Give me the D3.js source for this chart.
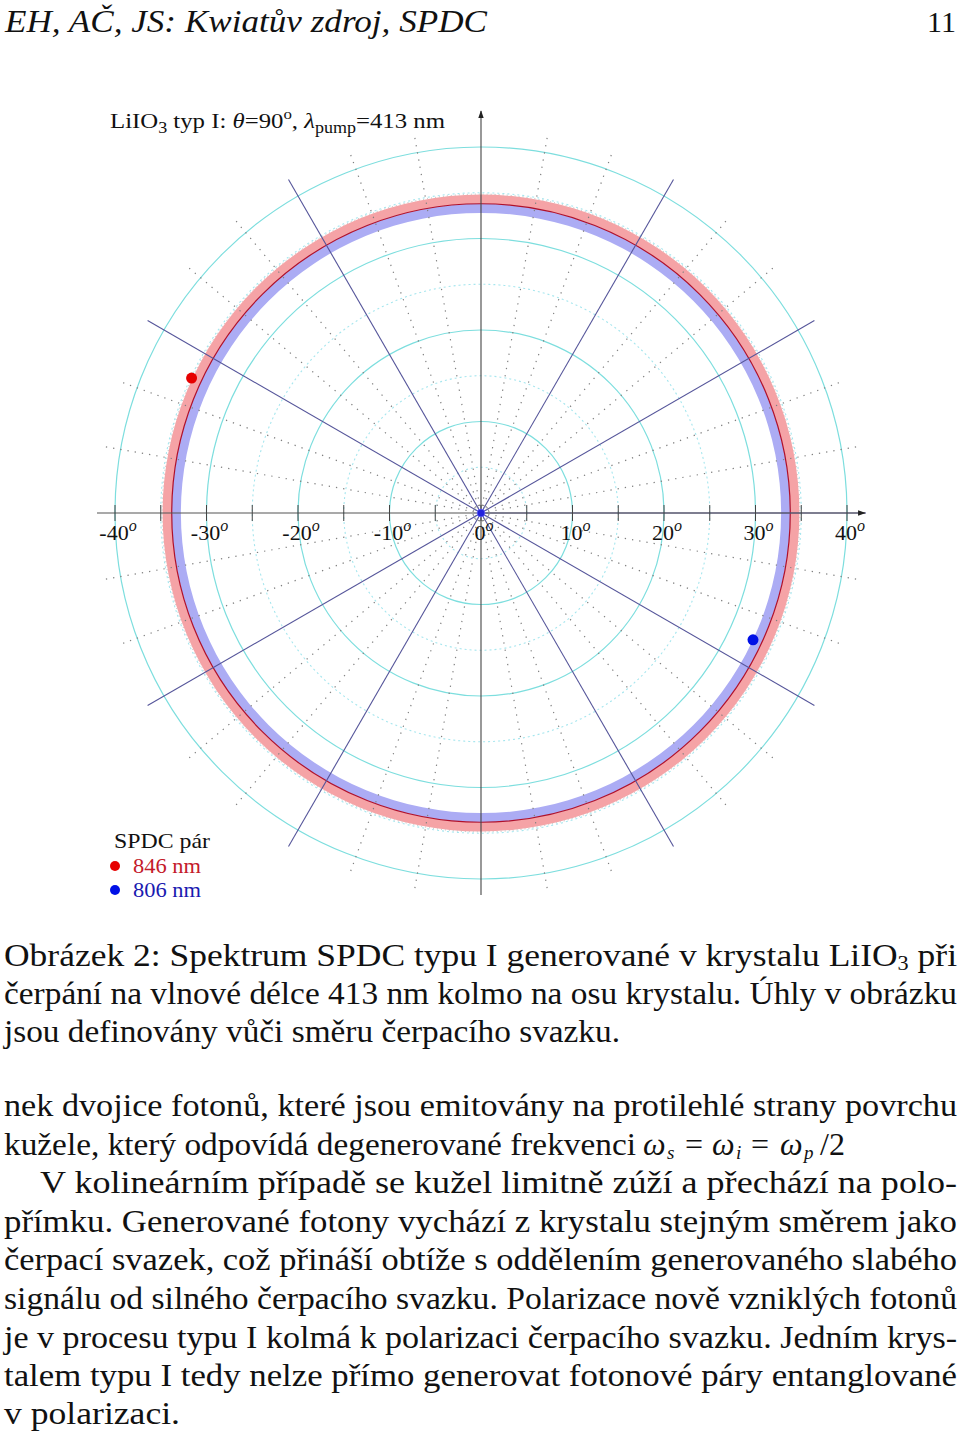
<!DOCTYPE html>
<html><head><meta charset="utf-8">
<script src="https://cdn.jsdelivr.net/npm/d3@7"></script>
<style>body{margin:0;background:#fff}svg{display:block}</style>
</head><body>
<svg id="c" width="960" height="1432"></svg>
<script>
// ---- data ----
const axisTicks = [-40,-35,-30,-25,-20,-15,-10,-5,0,5,10,15,20,25,30,35,40];
const axisLabels = [-40,-30,-20,-10,0,10,20,30,40];
const ringsSolid = [10,20,30,40];
const ringsDotted = [5,15,25,35];
const radialSolid = [0,30,60,120,150,210,240,300,330];
const radialDotted = [10,20,40,50,70,80,100,110,130,140,160,170,190,200,220,230,250,260,280,290,310,320,340,350];
const bandNames = ["846 nm","806 nm"];
const bandInner = [33.8, 32.8];
const bandOuter = [34.8, 33.8];
const bandColors = ["#f5a3a6","#acacf4"];
const pointAzimuth = [155, 335];
const pointTheta = [34.9, 32.8];
const pointColors = ["#e60000","#0010e6"];
const legendTextColors = ["#c41a2a","#1a1ab0"];
const caption = [
 "Obrázek 2: Spektrum SPDC typu I generované v krystalu LiIO|3| při",
 "čerpání na vlnové délce 413 nm kolmo na osu krystalu. Úhly v obrázku",
 "jsou definovány vůči směru čerpacího svazku."
];
const body = [
 "nek dvojice fotonů, které jsou emitovány na protilehlé strany povrchu",
 "kužele, který odpovídá degenerované frekvenci",
 "V kolineárním případě se kužel limitně zúží a přechází na polo-",
 "přímku. Generované fotony vychází z krystalu stejným směrem jako",
 "čerpací svazek, což přináší obtíže s oddělením generovaného slabého",
 "signálu od silného čerpacího svazku. Polarizace nově vzniklých fotonů",
 "je v procesu typu I kolmá k polarizaci čerpacího svazku. Jedním krys-",
 "talem typu I tedy nelze přímo generovat fotonové páry entanglované",
 "v  polarizaci."
];
// math pieces of ω_s = ω_i = ω_p/2 : text, italic, subscript
const mathText = ["ω","s","=","ω","i","=","ω","p","/2"];
const mathItalic = [1,1,0,1,1,0,1,1,0];
const mathSub = [0,1,0,0,1,0,0,1,0];
const mathX = [643,667,685,712,736,751,780,804,820];

// ---- drawing ----
const svg = d3.select("#c");
const cx = 481, cy = 513;
const r = d3.scaleLinear().domain([0,40]).range([0,366]);
const x = d3.scaleLinear().domain([-40,40]).range([cx - r(40), cx + r(40)]);
const serif = "'Liberation Serif','DejaVu Serif',serif";
const g = svg.append("g").attr("transform", `translate(${cx},${cy})`);
const rad = a => a * Math.PI / 180;

// bands
const arc = d3.arc().startAngle(0).endAngle(2*Math.PI);
g.selectAll("path.band").data(bandNames).join("path")
  .attr("d", (d,i) => arc({innerRadius: r(bandInner[i]), outerRadius: r(bandOuter[i])}))
  .attr("fill", (d,i) => bandColors[i]);
g.append("circle").attr("r", r(bandOuter[0]) + 0.5).attr("fill","none")
  .attr("stroke","#b9b9b9").attr("stroke-width",1).attr("stroke-dasharray","1,3");
g.append("circle").attr("r", r(bandInner[0])).attr("fill","none")
  .attr("stroke","#b0102a").attr("stroke-width",1.2);

// rings
g.selectAll("circle.solid").data(ringsSolid).join("circle")
  .attr("r", d => r(d)).attr("fill","none").attr("stroke","#7ddede").attr("stroke-width",1.2);
g.selectAll("circle.dot").data(ringsDotted).join("circle")
  .attr("r", d => r(d)).attr("fill","none").attr("stroke","#a6e6ee").attr("stroke-width",1.1)
  .attr("stroke-dasharray","2,3");
g.append("circle").attr("r",6).attr("fill","none").attr("stroke","#9bc").attr("stroke-dasharray","1,2");

// radial lines
const R = 385;
g.selectAll("line.rd").data(radialDotted).join("line")
  .attr("x1",0).attr("y1",0)
  .attr("x2", d => R*Math.cos(rad(d))).attr("y2", d => -R*Math.sin(rad(d)))
  .attr("stroke","#808080").attr("stroke-width",1.2).attr("stroke-dasharray","1.3,6");
g.selectAll("line.rs").data(radialSolid).join("line")
  .attr("x1",0).attr("y1",0)
  .attr("x2", d => R*Math.cos(rad(d))).attr("y2", d => -R*Math.sin(rad(d)))
  .attr("stroke","#55559a").attr("stroke-width",1.1);

// axes
svg.append("defs").append("marker").attr("id","arr").attr("viewBox","0 0 10 10")
  .attr("refX",9).attr("refY",5).attr("markerWidth",7).attr("markerHeight",7).attr("orient","auto")
  .append("path").attr("d","M0,1.5 L10,5 L0,8.5 Z").attr("fill","#222");
svg.append("line").attr("x1", cx - 384).attr("x2", cx + 384).attr("y1",cy).attr("y2",cy)
  .attr("stroke","#555").attr("stroke-width",1.1).attr("marker-end","url(#arr)");
svg.append("line").attr("x1", cx).attr("x2", cx).attr("y1", cy + 382).attr("y2", 111)
  .attr("stroke","#444").attr("stroke-width",1.1).attr("marker-end","url(#arr)");
svg.selectAll("line.tk").data(axisTicks).join("line")
  .attr("x1", d => x(d)).attr("x2", d => x(d)).attr("y1", cy-8).attr("y2", cy+8)
  .attr("stroke","#444").attr("stroke-width",1);
const lab = svg.selectAll("text.al").data(axisLabels).join("text")
  .attr("x", d => x(d) + 3).attr("y", 540).attr("text-anchor","middle")
  .attr("font-family", serif).attr("font-size", 22).attr("fill","#111");
lab.append("tspan").text(d => d);
lab.append("tspan").attr("dy",-9).attr("font-size",16).attr("font-style","italic").text("o");

// points
svg.selectAll("circle.pt").data(pointAzimuth).join("circle")
  .attr("cx", (d,i) => cx + r(pointTheta[i]) * Math.cos(rad(d)))
  .attr("cy", (d,i) => cy - r(pointTheta[i]) * Math.sin(rad(d)))
  .attr("r", 5.5).attr("fill", (d,i) => pointColors[i]);
svg.append("circle").attr("cx",cx).attr("cy",cy).attr("r",4).attr("fill","#2222dd").attr("stroke","#6666ee");

// header
svg.append("text").attr("x",5).attr("y",32).attr("font-family",serif).attr("font-style","italic")
  .attr("font-size",31).attr("fill","#111").attr("textLength",482).attr("lengthAdjust","spacingAndGlyphs")
  .text("EH, AČ, JS: Kwiatův zdroj, SPDC");
svg.append("text").attr("x",956).attr("y",32).attr("text-anchor","end").attr("font-family",serif)
  .attr("font-size",30).attr("fill","#111").text("11");

// chart title
const t = svg.append("text").attr("x",110).attr("y",128).attr("font-family",serif).attr("font-size",22)
  .attr("fill","#111").attr("textLength",335).attr("lengthAdjust","spacingAndGlyphs");
t.append("tspan").text("LiIO");
t.append("tspan").attr("dy",5).attr("font-size",16).text("3");
t.append("tspan").attr("dy",-5).text(" typ I: ");
t.append("tspan").attr("font-style","italic").text("θ");
t.append("tspan").text("=90");
t.append("tspan").attr("dy",-9).attr("font-size",15).text("o");
t.append("tspan").attr("dy",9).text(", ");
t.append("tspan").attr("font-style","italic").text("λ");
t.append("tspan").attr("dy",5).attr("font-size",16).text("pump");
t.append("tspan").attr("dy",-5).text("=413 nm");

// legend
svg.append("text").attr("x",114).attr("y",848).attr("font-family",serif).attr("font-size",22)
  .attr("fill","#111").attr("textLength",96).attr("lengthAdjust","spacingAndGlyphs").text("SPDC pár");
svg.selectAll("circle.lg").data(bandNames).join("circle")
  .attr("cx",115).attr("cy",(d,i) => 866 + i*24).attr("r",5).attr("fill",(d,i)=>pointColors[i]);
svg.selectAll("text.lg").data(bandNames).join("text")
  .attr("x",133).attr("y",(d,i) => 873 + i*24).attr("font-family",serif).attr("font-size",22)
  .attr("textLength",68).attr("lengthAdjust","spacingAndGlyphs")
  .attr("fill",(d,i)=>legendTextColors[i]).text(d => d);

// caption
const FS = 32;
const capY = [966, 1004, 1042];
const capLen = [953, 953, 616];
caption.forEach((line, i) => {
  const tx = svg.append("text").attr("x",4).attr("y",capY[i]).attr("font-family",serif)
    .attr("font-size",FS).attr("fill","#111")
    .attr("textLength",capLen[i]).attr("lengthAdjust","spacingAndGlyphs");
  const parts = line.split("|");
  tx.append("tspan").text(parts[0]);
  if (parts.length > 1) {
    tx.append("tspan").attr("dy",4).attr("font-size",20).text(parts[1]);
    tx.append("tspan").attr("dy",-4).text(parts[2]);
  }
});

// body text
const bodyY = [1116, 1155, 1193, 1232, 1270, 1309, 1348, 1386, 1424];
const bodyX = [4, 4, 40, 4, 4, 4, 4, 4, 4];
const bodyLen = [953, 632, 917, 953, 953, 953, 953, 953, 176];
body.forEach((line, i) => {
  svg.append("text").attr("x", bodyX[i]).attr("y",bodyY[i]).attr("font-family",serif)
    .attr("font-size",FS).attr("fill","#111")
    .attr("textLength", bodyLen[i]).attr("lengthAdjust","spacingAndGlyphs").text(line);
});
// math: ω_s = ω_i = ω_p/2, each piece as its own text
svg.selectAll("text.math").data(mathText).join("text")
  .attr("x",(d,i) => mathX[i])
  .attr("y",(d,i) => bodyY[1] + (mathSub[i] ? 4 : 0))
  .attr("font-family",serif)
  .attr("font-size",(d,i) => mathSub[i] ? 19 : FS)
  .attr("font-style",(d,i) => mathItalic[i] ? "italic" : "normal")
  .attr("fill","#111").text(d => d);
</script>
</body></html>
